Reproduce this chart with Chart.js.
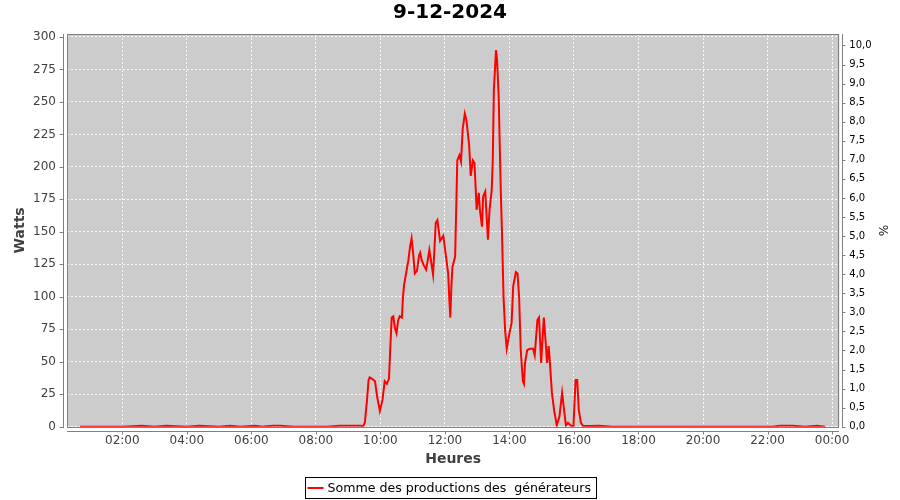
<!DOCTYPE html>
<html>
<head>
<meta charset="utf-8">
<title>9-12-2024</title>
<script src="https://cdn.jsdelivr.net/npm/chart.js@4.4.1/dist/chart.umd.min.js"></script>
<style>
  html, body { margin: 0; padding: 0; background: #fff; }
  canvas { display: block; }
</style>
</head>
<body>
<canvas id="chart" width="900" height="500"></canvas>
<script>
// ==========================================
// Production journalière - 9-12-2024
// ==========================================

// relevés (heure, puissance en W)
const heures = [
  '00:41','01:00','01:30','02:00','02:36','03:00','03:22','04:00','04:23','05:00',
  '05:20','05:40','06:07','06:20','06:40','06:53','07:20','07:50','08:20','08:45',
  '09:00','09:22','09:28','09:31','09:35','09:38','09:40','09:44','09:50','09:54',
  '09:59','10:04','10:08','10:12','10:16','10:18','10:21','10:24','10:27','10:30',
  '10:33','10:36','10:40','10:42','10:44','10:49','10:52','10:55','10:58','11:01',
  '11:04','11:08','11:12','11:14','11:17','11:21','11:25','11:28','11:31','11:34',
  '11:38','11:43','11:46','11:51','11:57','12:02','12:06','12:08','12:10','12:12',
  '12:14','12:19','12:23','12:27','12:30','12:33','12:37','12:40','12:45','12:48',
  '12:52','12:55','12:59','13:03','13:05','13:09','13:11','13:15','13:20','13:23',
  '13:27','13:29','13:31','13:35','13:37','13:40','13:42','13:44','13:46','13:49',
  '13:52','13:55','13:58','14:00','14:04','14:07','14:12','14:15','14:18','14:21',
  '14:25','14:27','14:29','14:33','14:38','14:44','14:47','14:52','14:55','14:59',
  '15:01','15:04','15:07','15:10','15:13','15:15','15:19','15:23','15:28','15:33',
  '15:38','15:41','15:45','15:49','15:54','15:59','16:03','16:06','16:09','16:13',
  '16:17','16:30','16:48','17:10','17:40','18:10','18:40','19:10','19:40','20:10',
  '20:40','21:10','21:40','22:10','22:23','22:47','23:10','23:32','23:47'
];
const watts = [
  0, 0, 0, 0, 0.8, 0, 0.8, 0, 0.8, 0,
  0.8, 0, 0.8, 0, 0.8, 0.8, 0, 0, 0, 0.8,
  0.8, 0.8, 0.5, 3, 20, 36, 38, 37, 35, 23,
  12, 21, 35, 33, 37, 57, 84, 85, 76, 72,
  82, 85, 84, 100, 109, 121, 128, 138, 145, 133,
  118, 120, 132, 134, 128, 124, 121, 128, 136, 128,
  117, 157, 159, 143, 147, 131, 118, 100, 84, 108,
  123, 131, 205, 209, 204, 229, 241, 236, 217, 193,
  205, 203, 167, 180, 167, 154, 177, 181, 144, 167,
  182, 205, 259, 290, 282, 254, 216, 180, 151, 100,
  74, 60, 67, 72, 80, 108, 119, 118, 100, 59,
  35, 33, 49, 59, 60, 60, 55, 82, 84, 49,
  64, 84, 67, 49, 62, 51, 26, 13, 1, 8,
  26, 15, 1, 3, 1, 0, 36, 36, 13, 3,
  0.5, 0.5, 0.8, 0, 0, 0, 0, 0, 0, 0,
  0, 0, 0, 0, 0.8, 0.8, 0, 0.8, 0
];

const xTicks = [2, 4, 6, 8, 10, 12, 14, 16, 18, 20, 22, 24];
const xTickLabels = ['02:00','04:00','06:00','08:00','10:00','12:00','14:00','16:00','18:00','20:00','22:00','00:00'];
const seriesLabel = 'Somme des productions des  générateurs';

function toHours(t) {
    const [h, m] = t.split(':').map(Number);
    return h + m / 60;
}

const FONT = 'DejaVu Sans';

// fond du graphe, cadre, axes décalés et légende encadrée (style JFreeChart)
const frame = {
    id: 'frame',
    beforeDraw(chart) {
        const { ctx, chartArea: a } = chart;
        ctx.save();
        ctx.fillStyle = '#cccccc';
        ctx.fillRect(a.left, a.top, a.right - a.left, a.bottom - a.top);
        ctx.restore();
    },
    beforeDatasetsDraw(chart) {
        const { ctx, chartArea: a } = chart;
        ctx.save();
        ctx.strokeStyle = '#808080';
        ctx.lineWidth = 1;
        ctx.strokeRect(Math.round(a.left) + 0.5, Math.round(a.top) + 0.5,
            Math.round(a.right - a.left) - 1, Math.round(a.bottom - a.top));
        ctx.restore();
    },
    afterDraw(chart) {
        const { ctx, chartArea: a, scales } = chart;
        const top = Math.round(a.top), bottom = Math.round(a.bottom) + 1;
        const lx = Math.round(a.left) - 3.5, rx = Math.round(a.right) + 3.5, by = bottom + 3.5;
        ctx.save();
        ctx.strokeStyle = '#808080';
        ctx.lineWidth = 1;
        ctx.beginPath();
        // axe gauche
        ctx.moveTo(lx, top); ctx.lineTo(lx, bottom);
        scales.y.ticks.forEach(t => {
            const y = Math.round(scales.y.getPixelForValue(t.value)) + 0.5;
            ctx.moveTo(lx - 4, y); ctx.lineTo(lx, y);
        });
        // axe droit
        ctx.moveTo(rx, top); ctx.lineTo(rx, bottom);
        scales.y1.ticks.forEach(t => {
            const y = Math.round(scales.y1.getPixelForValue(t.value)) + 0.5;
            ctx.moveTo(rx, y); ctx.lineTo(rx + 3, y);
        });
        // axe du bas
        ctx.moveTo(Math.round(a.left), by); ctx.lineTo(Math.round(a.right), by);
        scales.x.ticks.forEach(t => {
            const x = Math.round(scales.x.getPixelForValue(t.value)) + 0.5;
            ctx.moveTo(x, by); ctx.lineTo(x, by + 3);
        });
        ctx.stroke();

        // légende
        ctx.font = '12.6px "' + FONT + '"';
        const tw = ctx.measureText(seriesLabel).width;
        const w = Math.round(tw + 27), h = 21;
        const bx = Math.round(chart.width / 2 - w / 2) + 0.5, byl = 477.5;
        ctx.strokeStyle = '#000';
        ctx.strokeRect(bx, byl, w, h);
        ctx.strokeStyle = '#ff0000';
        ctx.lineWidth = 2;
        ctx.beginPath();
        ctx.moveTo(bx + 2, byl + h / 2); ctx.lineTo(bx + 18, byl + h / 2);
        ctx.stroke();
        ctx.fillStyle = '#000';
        ctx.textBaseline = 'middle';
        ctx.fillText(seriesLabel, bx + 22, byl + h / 2 + 0.5);
        ctx.restore();
    }
};

const gridLines = { color: 'rgba(255,255,255,0.85)', lineWidth: 1, drawTicks: false };

new Chart(document.getElementById('chart'), {
    type: 'line',
    data: {
        datasets: [{
            label: seriesLabel,
            data: heures.map((t, i) => ({ x: toHours(t), y: watts[i] })),
            borderColor: '#ff0000',
            borderWidth: 2,
            pointRadius: 0,
            tension: 0,
            fill: false,
            yAxisID: 'y'
        }]
    },
    options: {
        responsive: false,
        animation: false,
        layout: { padding: { top: 0, left: 0, right: 0, bottom: 28 } },
        scales: {
            x: {
                type: 'linear',
                min: 0.285,
                max: 24.225,
                afterBuildTicks: s => { s.ticks = xTicks.map(v => ({ value: v })); },
                afterFit: s => { s.height = 45.3; },
                grid: gridLines,
                border: { display: false, dash: [2, 2] },
                ticks: {
                    autoSkip: false, maxRotation: 0, padding: 7,
                    color: '#404040', font: { family: FONT, size: 12 },
                    callback: (v, i) => xTickLabels[i]
                },
                title: {
                    display: true, text: 'Heures', color: '#404040',
                    font: { family: FONT, size: 14, weight: 'bold' },
                    padding: { top: 0, bottom: 4 }
                }
            },
            y: {
                position: 'left',
                min: 0,
                max: 302.3,
                afterFit: s => { s.width = 67; },
                grid: gridLines,
                border: { display: false, dash: [2, 2] },
                ticks: {
                    stepSize: 25, includeBounds: false, autoSkip: false, padding: 11,
                    color: '#404040', font: { family: FONT, size: 12 }
                },
                title: {
                    display: true, text: 'Watts', color: '#404040',
                    font: { family: FONT, size: 14, weight: 'bold' },
                    padding: { top: 12, bottom: 0 }
                }
            },
            y1: {
                position: 'right',
                min: 0,
                max: 10.3,
                afterFit: s => { s.width = 60.7; },
                grid: { display: false, drawTicks: false },
                border: { display: false },
                ticks: {
                    stepSize: 0.5, includeBounds: false, autoSkip: false, padding: 10,
                    color: '#000', font: { family: FONT, size: 10 },
                    callback: v => v.toFixed(1).replace('.', ',')
                },
                title: {
                    display: true, text: '%', color: '#222',
                    font: { family: FONT, size: 12 },
                    padding: { top: 11, bottom: 0 }
                }
            }
        },
        plugins: {
            legend: { display: false },
            tooltip: { enabled: false },
            title: {
                display: true, text: '9-12-2024', color: '#000',
                font: { family: FONT, size: 20, weight: 'bold' },
                padding: { top: 1, bottom: 9 }
            }
        }
    },
    plugins: [frame]
});
</script>
</body>
</html>
